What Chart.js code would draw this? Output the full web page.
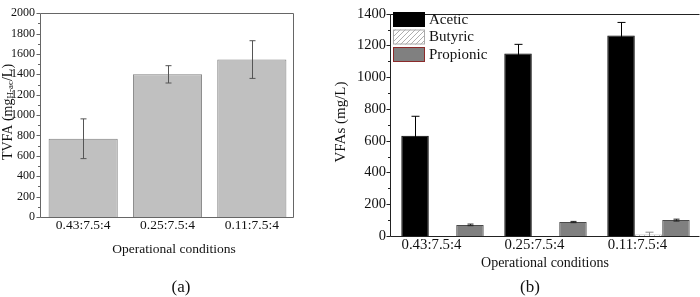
<!DOCTYPE html>
<html lang="en">
<head>
<meta charset="UTF-8">
<title>TVFA / VFAs</title>
<script src="https://cdn.jsdelivr.net/npm/chart.js"></script>
<style>
    body { margin: 0; background: #fff; }
    #wrap { position: relative; width: 700px; height: 297px; }
    #grafA { position: absolute; left: 0; top: 0; }
    #grafB { position: absolute; left: 325px; top: 0; }
</style>
</head>
<body>
<div id="wrap">
    <canvas id="grafA" width="325" height="297" style="width:325px;height:297px"></canvas>
    <canvas id="grafB" width="375" height="297" style="width:375px;height:297px"></canvas>
</div>
<script>
    var condicoes = ['0.43:7.5:4', '0.25:7.5:4', '0.11:7.5:4'];

    // (a) TVFA
    var tvfa = [768, 1400, 1545];
    var tvfaErro = [195, 85, 185];
    var eixoA = { min: 0, max: 2000, passo: 200 };

    // (b) VFAs
    var acetico = [632, 1150, 1262];
    var aceticoErro = [122, 57, 83];
    var butirico = [0, 0, 10];
    var butiricoErro = [0, 0, 14];
    var propionico = [70, 88, 100];
    var propionicoErro = [5, 4, 6];
    var eixoB = { min: 0, max: 1400, passo: 200 };

    var fonte = "'Liberation Serif', 'Times New Roman', serif";

    function semVirgula(v) { return String(v); }

    function criarHachura() {
        var p = document.createElement('canvas');
        p.width = 5; p.height = 5;
        var c = p.getContext('2d');
        c.fillStyle = '#fff';
        c.fillRect(0, 0, 5, 5);
        c.strokeStyle = '#9a9a9a';
        c.lineWidth = 0.8;
        c.beginPath();
        c.moveTo(0, 5); c.lineTo(5, 0);
        c.moveTo(-1, 1); c.lineTo(1, -1);
        c.moveTo(4, 6); c.lineTo(6, 4);
        c.stroke();
        return c.createPattern(p, 'repeat');
    }
    var hachura = criarHachura();

    // barras de erro
    var pluginErro = {
        id: 'erro',
        afterDatasetsDraw: function(chart) {
            var ctx = chart.ctx;
            var y = chart.scales.y;
            chart.data.datasets.forEach(function(ds, i) {
                if (!ds.erros) return;
                var meta = chart.getDatasetMeta(i);
                meta.data.forEach(function(bar, j) {
                    var e = ds.erros[j];
                    if (!e) return;
                    var v = ds.data[j];
                    var topo = y.getPixelForValue(v + e);
                    var baixo = y.getPixelForValue(Math.max(0, v - e));
                    var x = Math.round(bar.x) + 0.5;
                    var cap = ds.capErro || 3;
                    ctx.save();
                    ctx.strokeStyle = ds.corErro || '#000';
                    ctx.lineWidth = 1;
                    ctx.beginPath();
                    ctx.moveTo(x, topo); ctx.lineTo(x, baixo);
                    ctx.moveTo(x - cap, topo); ctx.lineTo(x + cap, topo);
                    if (v - e > 0) {
                        ctx.moveTo(x - cap, baixo); ctx.lineTo(x + cap, baixo);
                    }
                    ctx.stroke();
                    ctx.restore();
                });
            });
        }
    };

    // moldura, ticks e textos
    var pluginMoldura = {
        id: 'moldura',
        afterDraw: function(chart, args, opts) {
            var ctx = chart.ctx;
            var a = chart.chartArea;
            var y = chart.scales.y;
            ctx.save();
            ctx.strokeStyle = opts.cor;
            ctx.lineWidth = 1;
            ctx.beginPath();
            var l = Math.round(a.left) - 0.5, t = Math.round(a.top) + 0.5;
            var r = Math.round(a.right) - 0.5, b = Math.round(a.bottom) + 0.5;
            ctx.moveTo(l, b); ctx.lineTo(l, t); ctx.lineTo(r, t);
            if (opts.caixa) { ctx.lineTo(r, b); }
            ctx.moveTo(l, b); ctx.lineTo(r, b);
            for (var v = y.min; v <= y.max; v += opts.passo / 2) {
                var py = Math.round(y.getPixelForValue(v)) + 0.5;
                var len = (v % opts.passo === 0) ? 4 : 2.5;
                ctx.moveTo(l - len, py); ctx.lineTo(l, py);
            }
            ctx.stroke();

            ctx.fillStyle = '#111';
            ctx.textAlign = 'center';
            ctx.textBaseline = 'middle';
            opts.textos.forEach(function(tx) {
                ctx.font = tx.tam + 'px ' + fonte;
                ctx.fillText(tx.t, tx.x, tx.y);
            });

            // titulo do eixo y (rotacionado, com subscrito)
            var tit = opts.tituloY;
            ctx.translate(tit.x, tit.y);
            ctx.rotate(-Math.PI / 2);
            ctx.textAlign = 'left';
            var larg = 0;
            tit.partes.forEach(function(p) {
                ctx.font = p.tam + 'px ' + fonte;
                larg += ctx.measureText(p.t).width;
            });
            var px = -larg / 2;
            tit.partes.forEach(function(p) {
                ctx.font = p.tam + 'px ' + fonte;
                ctx.fillText(p.t, px, p.dy || 0);
                px += ctx.measureText(p.t).width;
            });
            ctx.restore();
        }
    };

    // legenda dentro do grafico (b)
    var pluginLegenda = {
        id: 'legendaInterna',
        afterDraw: function(chart) {
            var ctx = chart.ctx;
            var x0 = chart.chartArea.left + 2;
            var y0 = 12;
            ctx.save();
            chart.data.datasets.forEach(function(ds, i) {
                var yy = y0 + i * 17.5;
                ctx.fillStyle = ds.backgroundColor;
                ctx.fillRect(x0, yy, 32, 15);
                ctx.strokeStyle = ds.corLegenda;
                ctx.lineWidth = 1;
                ctx.strokeRect(x0 + 0.5, yy + 0.5, 31, 14);
                ctx.fillStyle = '#111';
                ctx.font = '15px ' + fonte;
                ctx.textBaseline = 'middle';
                ctx.textAlign = 'left';
                ctx.fillText(ds.label, x0 + 36, yy + 8);
            });
            ctx.restore();
        }
    };

    new Chart(document.getElementById('grafA'), {
        type: 'bar',
        data: {
            labels: condicoes,
            datasets: [{
                label: 'TVFA',
                data: tvfa,
                erros: tvfaErro,
                corErro: '#555',
                capErro: 3,
                backgroundColor: '#c0c0c0',
                borderColor: '#808080',
                borderWidth: 1,
                barPercentage: 0.82,
                categoryPercentage: 1
            }]
        },
        options: {
            responsive: false,
            animation: false,
            layout: { padding: { top: 7, left: 0, right: 31, bottom: 0 } },
            plugins: {
                legend: { display: false },
                tooltip: { enabled: false },
                moldura: {
                    cor: '#666',
                    caixa: true,
                    passo: eixoA.passo,
                    textos: [
                        { t: 'Operational conditions', x: 174, y: 249, tam: 13.5 },
                        { t: '(a)', x: 181, y: 288, tam: 17 }
                    ],
                    tituloY: {
                        x: 8, y: 112,
                        partes: [
                            { t: 'TVFA (mg', tam: 14 },
                            { t: 'H-ac', tam: 9, dy: 3 },
                            { t: '/L)', tam: 14 }
                        ]
                    }
                }
            },
            scales: {
                x: {
                    grid: { display: false, drawTicks: false },
                    border: { display: false },
                    ticks: { color: '#111', padding: 0, font: { family: fonte, size: 13.5 } },
                    afterFit: function(s) { s.height = 80; }
                },
                y: {
                    min: eixoA.min,
                    max: eixoA.max,
                    grid: { display: false, drawTicks: false },
                    border: { display: false },
                    ticks: { stepSize: eixoA.passo, callback: semVirgula, color: '#111', padding: 6, font: { family: fonte, size: 12 } },
                    afterFit: function(s) { s.width = 41; }
                }
            }
        },
        plugins: [pluginErro, pluginMoldura]
    });

    new Chart(document.getElementById('grafB'), {
        type: 'bar',
        data: {
            labels: condicoes,
            datasets: [{
                label: 'Acetic',
                data: acetico,
                erros: aceticoErro,
                corErro: '#000',
                capErro: 4,
                backgroundColor: '#000',
                borderColor: '#000',
                corLegenda: '#000',
                borderWidth: 1
            }, {
                label: 'Butyric',
                data: butirico,
                erros: butiricoErro,
                corErro: '#888',
                capErro: 4,
                backgroundColor: hachura,
                borderColor: '#999',
                corLegenda: '#aaa',
                borderWidth: 1
            }, {
                label: 'Propionic',
                data: propionico,
                erros: propionicoErro,
                corErro: '#222',
                capErro: 3,
                backgroundColor: '#808080',
                borderColor: '#4a4a4a',
                corLegenda: '#8b2a2a',
                borderWidth: 1
            }]
        },
        options: {
            responsive: false,
            animation: false,
            datasets: { bar: { barPercentage: 1, categoryPercentage: 0.8 } },
            layout: { padding: { top: 7, left: 0, right: 0, bottom: 0 } },
            plugins: {
                legend: { display: false },
                tooltip: { enabled: false },
                moldura: {
                    cor: '#222',
                    caixa: false,
                    passo: eixoB.passo,
                    textos: [
                        { t: 'Operational conditions', x: 220, y: 263, tam: 14 },
                        { t: '(b)', x: 205, y: 288, tam: 17 }
                    ],
                    tituloY: {
                        x: 16, y: 122,
                        partes: [{ t: 'VFAs (mg/L)', tam: 15 }]
                    }
                }
            },
            scales: {
                x: {
                    grid: { display: false, drawTicks: false },
                    border: { display: false },
                    ticks: { color: '#111', padding: 0, labelOffset: -11, font: { family: fonte, size: 14.8 } },
                    afterFit: function(s) { s.height = 61; }
                },
                y: {
                    min: eixoB.min,
                    max: eixoB.max,
                    grid: { display: false, drawTicks: false },
                    border: { display: false },
                    ticks: { stepSize: eixoB.passo, callback: semVirgula, color: '#111', padding: 5, font: { family: fonte, size: 14.5 } },
                    afterFit: function(s) { s.width = 66; }
                }
            }
        },
        plugins: [pluginErro, pluginMoldura, pluginLegenda]
    });
</script>
</body>
</html>
